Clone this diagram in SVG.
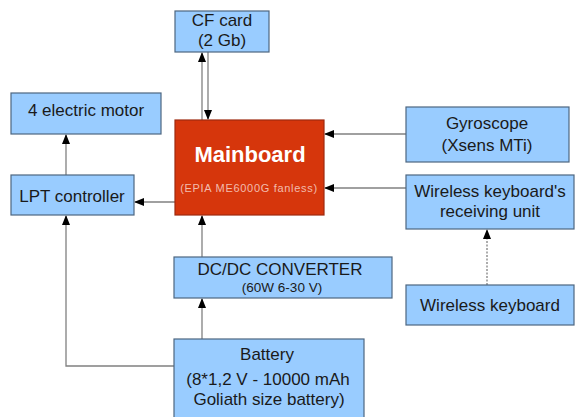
<svg xmlns="http://www.w3.org/2000/svg" width="577" height="417" viewBox="0 0 577 417">
<defs>
<marker id="ah" markerWidth="10" markerHeight="8" refX="9" refY="4" orient="auto" markerUnits="userSpaceOnUse">
<path d="M0,0 L10,4 L0,8 Z" fill="#000"/>
</marker>
<style>
.box{fill:#99ccff;stroke:#4d6680;stroke-width:1.2}
.t{font-family:"Liberation Sans",Arial,sans-serif;font-size:17px;fill:#1a1a1a;text-anchor:middle}
.s{font-size:13.5px}
.c{fill:none;stroke:#808080;stroke-width:1.3}
</style>
</defs>
<rect width="577" height="417" fill="#fff"/>
<g id="connectors">
<line class="c" x1="202" y1="120" x2="202" y2="53" marker-end="url(#ah)"/>
<line class="c" x1="208" y1="52" x2="208" y2="119" marker-end="url(#ah)"/>
<line class="c" x1="66" y1="175" x2="66" y2="135" marker-end="url(#ah)"/>
<line class="c" x1="175" y1="202" x2="135" y2="202" marker-end="url(#ah)"/>
<line class="c" x1="406" y1="134" x2="325" y2="134" marker-end="url(#ah)"/>
<line class="c" x1="406" y1="188" x2="325" y2="188" marker-end="url(#ah)"/>
<line class="c" x1="487" y1="285" x2="487" y2="230" stroke-dasharray="2,1.5" marker-end="url(#ah)"/>
<line class="c" x1="202" y1="257" x2="202" y2="216" marker-end="url(#ah)"/>
<line class="c" x1="202" y1="339" x2="202" y2="299" marker-end="url(#ah)"/>
<polyline class="c" points="174,366 66,366 66,216" marker-end="url(#ah)"/>
</g>
<g id="cf">
<rect class="box" x="175" y="11" width="94" height="41"/>
<text class="t" x="222" y="26">CF card</text>
<text class="t" x="222" y="46">(2 Gb)</text>
</g>
<g id="motor">
<rect class="box" x="11" y="93" width="150" height="41"/>
<text class="t" x="86" y="116">4 electric motor</text>
</g>
<g id="mainboard">
<rect x="175" y="120" width="149" height="95" fill="#d6360c" stroke="#9e2a10" stroke-width="1.2"/>
<text x="250" y="162" font-family="Liberation Sans,Arial,sans-serif" font-size="22" font-weight="bold" fill="#fff" text-anchor="middle">Mainboard</text>
<text x="249" y="192" font-family="Liberation Sans,Arial,sans-serif" font-size="11" letter-spacing="0.7" fill="#f2bcae" text-anchor="middle">(EPIA ME6000G fanless)</text>
</g>
<g id="lpt">
<rect class="box" x="11" y="175" width="123" height="40"/>
<text class="t" x="72" y="202">LPT controller</text>
</g>
<g id="gyro">
<rect class="box" x="406" y="107" width="163" height="55"/>
<text class="t" x="487" y="129">Gyroscope</text>
<text class="t" x="487" y="151">(Xsens MTi)</text>
</g>
<g id="receiver">
<rect class="box" x="406" y="175" width="168" height="54"/>
<text class="t" x="490" y="197">Wireless keyboard's</text>
<text class="t" x="490" y="217">receiving unit</text>
</g>
<g id="keyboard">
<rect class="box" x="406" y="285" width="168" height="40"/>
<text class="t" x="490" y="311">Wireless keyboard</text>
</g>
<g id="dcdc">
<rect class="box" x="174" y="257" width="218" height="41"/>
<text class="t" x="280" y="275" font-size="16.5">DC/DC CONVERTER</text>
<text class="t s" x="282" y="292">(60W 6-30 V)</text>
</g>
<g id="battery">
<rect class="box" x="174" y="339" width="190" height="90"/>
<text class="t" x="267" y="360">Battery</text>
<text class="t" x="268" y="385">(8*1,2 V - 10000 mAh</text>
<text class="t" x="269" y="405">Goliath size battery)</text>
</g>
</svg>
